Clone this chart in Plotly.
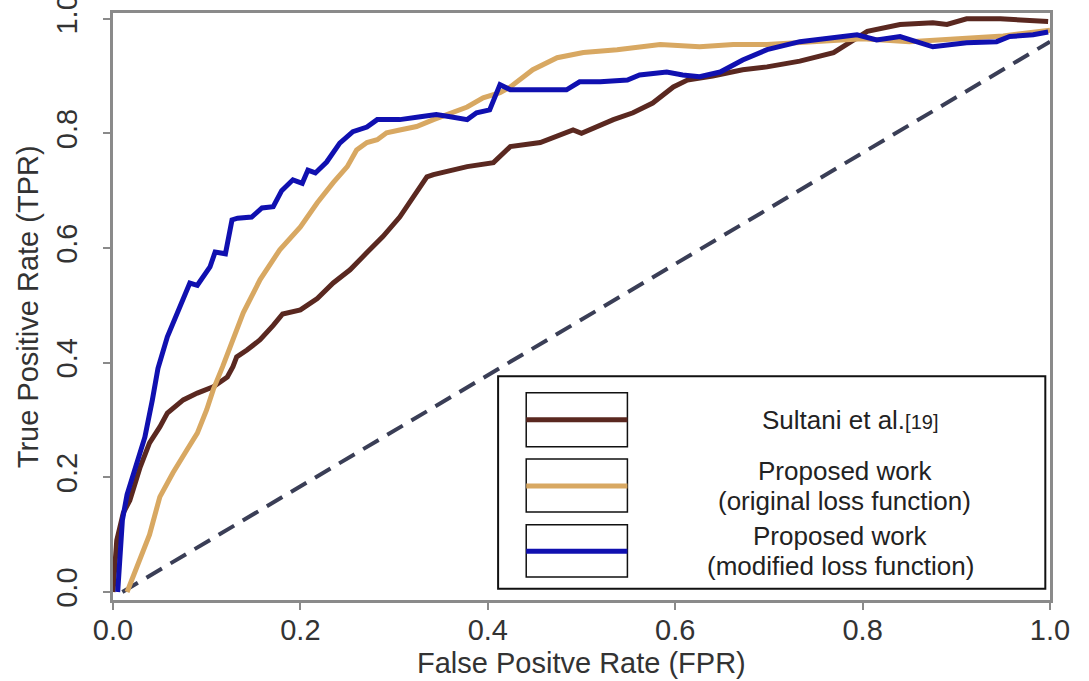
import plotly.graph_objects as go

# ---- data ----
sultani_fpr = [0.0, 0.004, 0.011, 0.018, 0.029, 0.039, 0.05, 0.058, 0.075, 0.09, 0.107, 0.122, 0.128, 0.132,
               0.143, 0.157, 0.171, 0.181, 0.2, 0.218, 0.235, 0.253, 0.271, 0.288, 0.306, 0.32, 0.335, 0.342,
               0.36, 0.378, 0.406, 0.424, 0.456, 0.491, 0.5, 0.534, 0.555, 0.576, 0.598, 0.613, 0.64, 0.672,
               0.698, 0.733, 0.769, 0.783, 0.805, 0.84, 0.875, 0.89, 0.911, 0.947, 0.982, 0.998]
sultani_tpr = [0.0, 0.09, 0.138, 0.16, 0.218, 0.26, 0.288, 0.312, 0.335, 0.347, 0.358, 0.375, 0.393, 0.41,
               0.422, 0.44, 0.465, 0.485, 0.492, 0.512, 0.539, 0.562, 0.592, 0.62, 0.654, 0.689, 0.724, 0.728,
               0.736, 0.742, 0.749, 0.777, 0.784, 0.806, 0.8, 0.824, 0.836, 0.853, 0.881, 0.893, 0.9, 0.911,
               0.916, 0.926, 0.941, 0.955, 0.978, 0.99, 0.993, 0.99, 1.0, 1.0, 0.998, 0.995]

orig_fpr = [0.015, 0.026, 0.039, 0.05, 0.064, 0.079, 0.09, 0.1, 0.107, 0.117, 0.128, 0.139, 0.157, 0.178,
            0.2, 0.218, 0.235, 0.25, 0.26, 0.271, 0.282, 0.292, 0.306, 0.324, 0.342, 0.363, 0.378, 0.395,
            0.413, 0.424, 0.448, 0.474, 0.502, 0.538, 0.584, 0.626, 0.662, 0.698, 0.75, 0.8, 0.85, 0.9,
            0.95, 1.0]
orig_tpr = [0.0, 0.044, 0.1, 0.166, 0.208, 0.248, 0.277, 0.318, 0.353, 0.393, 0.44, 0.487, 0.545, 0.597,
            0.637, 0.679, 0.714, 0.742, 0.771, 0.784, 0.789, 0.801, 0.806, 0.812, 0.824, 0.836, 0.846, 0.862,
            0.871, 0.881, 0.911, 0.932, 0.941, 0.946, 0.955, 0.951, 0.955, 0.955, 0.96, 0.965, 0.96, 0.965,
            0.97, 0.98]

mod_fpr = [0.005, 0.008, 0.01, 0.015, 0.023, 0.034, 0.042, 0.048, 0.058, 0.0715, 0.082, 0.09, 0.1035, 0.109,
           0.12, 0.127, 0.133, 0.148, 0.159, 0.171, 0.18, 0.192, 0.202, 0.208, 0.216, 0.228, 0.242, 0.256,
           0.271, 0.282, 0.306, 0.328, 0.345, 0.36, 0.378, 0.388, 0.402, 0.413, 0.424, 0.448, 0.484, 0.498,
           0.52, 0.549, 0.562, 0.591, 0.608, 0.626, 0.648, 0.672, 0.698, 0.733, 0.769, 0.794, 0.815, 0.84,
           0.875, 0.911, 0.943, 0.957, 0.982, 0.998]
mod_tpr = [0.0, 0.06, 0.125, 0.17, 0.21, 0.27, 0.335, 0.39, 0.445, 0.497, 0.539, 0.535, 0.567, 0.593,
           0.59, 0.649, 0.652, 0.654, 0.67, 0.672, 0.7, 0.719, 0.713, 0.736, 0.731, 0.75, 0.783, 0.803,
           0.811, 0.824, 0.824, 0.829, 0.833, 0.829, 0.824, 0.836, 0.841, 0.885, 0.876, 0.876, 0.876, 0.89,
           0.89, 0.893, 0.902, 0.907, 0.902, 0.899, 0.907, 0.928, 0.946, 0.96, 0.967, 0.972, 0.963, 0.969,
           0.951, 0.958, 0.96, 0.969, 0.972, 0.977]

chance_fpr = [0.01, 1.0]
chance_tpr = [0.0, 0.96]

x_ticks = [0.0, 0.2, 0.4, 0.6, 0.8, 1.0]
y_ticks = [0.0, 0.2, 0.4, 0.6, 0.8, 1.0]
tick_text = ["0.0", "0.2", "0.4", "0.6", "0.8", "1.0"]

x_title = "False Positve Rate (FPR)"
y_title = "True Positive Rate (TPR)"

# legend entries: list of text lines per series
series_lines = [["Sultani et al.<span style='font-size:20px'>[19]</span>"],
                ["Proposed work", "(original loss function)"],
                ["Proposed work", "(modified loss function)"]]
series_colors = ["#5a2820", "#d8a862", "#1010b0"]

FONT = "Liberation Sans, Arial, sans-serif"
TXT = "#333333"

fig = go.Figure()
fig.add_trace(go.Scatter(x=chance_fpr, y=chance_tpr, mode="lines",
                         line=dict(color="#3a3e56", width=4, dash="18px,10px"), showlegend=False))
fig.add_trace(go.Scatter(x=sultani_fpr, y=sultani_tpr, mode="lines",
                         line=dict(color=series_colors[0], width=5), showlegend=False))
fig.add_trace(go.Scatter(x=orig_fpr, y=orig_tpr, mode="lines",
                         line=dict(color=series_colors[1], width=5), showlegend=False))
fig.add_trace(go.Scatter(x=mod_fpr, y=mod_tpr, mode="lines",
                         line=dict(color=series_colors[2], width=5), showlegend=False))

# hand-built legend box (paper coordinates)
shapes = [dict(type="rect", xref="paper", yref="paper", x0=0.411, x1=0.995, y0=0.019, y1=0.381,
               line=dict(color="#111111", width=2), fillcolor="white", layer="above")]
box_rows = [(0.261, 0.353, 0.307), (0.150, 0.240, 0.194), (0.039, 0.128, 0.083)]
annotations = []
text_x = [0.787, 0.781, 0.776]
line_gap = 0.051
for (y0, y1, yl), col, lines, tx in zip(box_rows, series_colors, series_lines, text_x):
    shapes.append(dict(type="rect", xref="paper", yref="paper", x0=0.441, x1=0.549, y0=y0, y1=y1,
                       line=dict(color="#111111", width=1.5), fillcolor="white", layer="above"))
    shapes.append(dict(type="line", xref="paper", yref="paper", x0=0.441, x1=0.549, y0=yl, y1=yl,
                       line=dict(color=col, width=5), layer="above"))
    n = len(lines)
    for i, t in enumerate(lines):
        ty = yl + (n - 1) * line_gap / 2 - i * line_gap
        annotations.append(dict(xref="paper", yref="paper", x=tx, y=ty, text=t, showarrow=False,
                                xanchor="center", yanchor="middle", align="center",
                                font=dict(family=FONT, size=26, color="#222222")))

# axis titles
annotations.append(dict(xref="paper", yref="paper", x=0.5, y=-0.107, text=x_title, showarrow=False,
                        xanchor="center", yanchor="middle",
                        font=dict(family=FONT, size=29, color=TXT)))
annotations.append(dict(xref="paper", yref="paper", x=-0.091, y=0.5, text=y_title, showarrow=False,
                        xanchor="center", yanchor="middle", textangle=-90,
                        font=dict(family=FONT, size=29, color=TXT)))

fig.update_layout(
    width=1089, height=681,
    margin=dict(l=113, r=39, t=13, b=81, autoexpand=False),
    paper_bgcolor="white", plot_bgcolor="white",
    shapes=shapes, annotations=annotations,
    showlegend=False,
)
fig.update_xaxes(range=[0, 1], tickvals=x_ticks, ticktext=tick_text, automargin=False,
                 showgrid=False, zeroline=False,
                 showline=True, mirror=True, linecolor="#8a8a8a", linewidth=3,
                 ticks="outside", ticklen=7, tickwidth=2, tickcolor="#8a8a8a",
                 ticklabeloverflow="allow", ticklabelstandoff=-5,
                 tickfont=dict(family=FONT, size=29, color=TXT))
fig.update_yaxes(range=[-0.014, 1.01], tickvals=y_ticks, ticktext=tick_text, automargin=False,
                 showgrid=False, zeroline=False,
                 showline=True, mirror=True, linecolor="#8a8a8a", linewidth=3,
                 ticks="outside", ticklen=7, tickwidth=2, tickcolor="#8a8a8a",
                 tickangle=-90, ticklabelstandoff=14, ticklabeloverflow="allow",
                 tickfont=dict(family=FONT, size=29, color=TXT))

fig.write_html("out.html", config={"displayModeBar": False},
               post_script="document.body.style.margin='0';document.body.style.overflow='hidden';")
